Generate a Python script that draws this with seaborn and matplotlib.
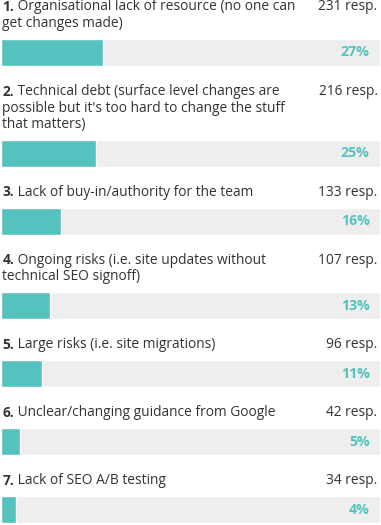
import matplotlib
matplotlib.use("Agg")
import matplotlib.pyplot as plt
import seaborn as sns
import pandas as pd

# data
numbers = ["1.", "2.", "3.", "4.", "5.", "6.", "7."]
labels = [
    ["Organisational lack of resource (no one can", "get changes made)"],
    ["Technical debt (surface level changes are",
     "possible but it's too hard to change the stuff", "that matters)"],
    ["Lack of buy-in/authority for the team"],
    ["Ongoing risks (i.e. site updates without", "technical SEO signoff)"],
    ["Large risks (i.e. site migrations)"],
    ["Unclear/changing guidance from Google"],
    ["Lack of SEO A/B testing"],
]
responses = [231, 216, 133, 107, 96, 42, 34]
percents = [27, 25, 16, 13, 11, 5, 4]

TEAL = "#56c2bf"
GREY = "#eeeeee"
TEXT = "#333333"

sns.set_theme(style="white")
plt.rcParams["font.family"] = ["Open Sans", "DejaVu Sans"]

W, H = 381, 525
fig = plt.figure(figsize=(W / 100, H / 100), dpi=100)
ax = fig.add_axes([0, 0, 1, 1])

# layout in pixel rows: text lines, then the bar
line_h, gap_bar, bar_h, gap_next = 16.5, 15, 27, 26
y = 7
text_rows, bar_centres = [], []
for lines in labels:
    rows = []
    for _ in lines:
        rows.append(y)
        y += line_h
    text_rows.append(rows)
    top = rows[-1] + gap_bar
    bar_centres.append(top + bar_h / 2)
    y = top + bar_h + gap_next

df = pd.DataFrame({"pos": bar_centres, "pct": percents, "full": [100] * len(percents)})
spacing = min(b - a for a, b in zip(bar_centres, bar_centres[1:]))
w = bar_h / spacing

sns.barplot(data=df, x="full", y="pos", orient="h", native_scale=True,
            color=GREY, width=w, saturation=1, ax=ax)
sns.barplot(data=df, x="pct", y="pos", orient="h", native_scale=True,
            color=TEAL, width=w, saturation=1, ax=ax)

ax.set_xlim(-0.2, 100.3)
ax.set_ylim(H, 0)
ax.axis("off")

fs = 9.9
renderer = fig.canvas.get_renderer()
for num, lines, rows, n, p, yc in zip(numbers, labels, text_rows, responses, percents, bar_centres):
    t = ax.text(0.4, rows[0], num, fontsize=fs, fontweight="bold", color=TEXT,
                va="center", ha="left")
    nw = t.get_window_extent(renderer).width * 72 / fig.dpi
    ax.annotate(" " + lines[0], (0.4, rows[0]), xytext=(nw, 0), textcoords="offset points",
                fontsize=fs, color=TEXT, va="center", ha="left")
    for line, r in zip(lines[1:], rows[1:]):
        ax.text(0.4, r, line, fontsize=fs, color=TEXT, va="center", ha="left")
    ax.text(99.4, rows[0], f"{n} resp.", fontsize=fs, color=TEXT, va="center", ha="right")
    ax.text(97.3, yc, f"{p}%", fontsize=fs + 0.3, fontweight="bold", color=TEAL,
            va="center", ha="right")

fig.savefig("out.png", dpi=100)
